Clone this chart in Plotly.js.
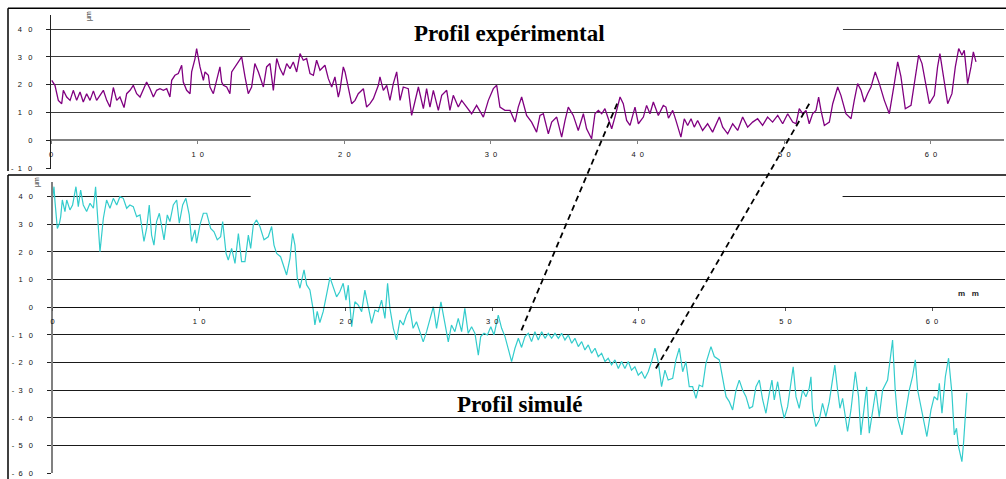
<!DOCTYPE html>
<html>
<head>
<meta charset="utf-8">
<script src="https://cdn.plot.ly/plotly-3.0.1.min.js"></script>
<style>html,body{margin:0;padding:0;background:#fff;}#chart{width:1006px;height:479px;}</style>
</head>
<body>
<div id="chart"></div>
<script>
// ---- Experimental profile (top, µm vs mm) ----
const expX = [0.05,0.16,0.27,0.5,0.73,0.84,1.07,1.3,1.52,1.75,1.98,2.2,2.43,2.66,2.89,3.11,3.34,3.57,3.8,4.02,4.25,4.48,4.7,4.98,5.16,5.39,5.61,5.84,6.07,6.3,6.52,6.75,6.98,7.2,7.43,7.66,7.89,8.11,8.23,8.45,8.68,8.91,9.02,9.25,9.48,9.59,9.82,9.93,10.16,10.39,10.5,10.73,10.84,11.07,11.3,11.52,11.64,11.75,11.98,12.2,12.32,12.55,12.77,13,13.23,13.45,13.68,13.9,14.14,14.48,14.7,14.93,15.16,15.39,15.61,15.84,16.07,16.3,16.52,16.75,16.98,17.2,17.43,17.66,17.89,18.11,18.34,18.68,18.91,19.14,19.36,19.59,19.7,19.93,20.05,20.27,20.5,20.73,20.95,21.3,21.52,21.75,21.98,22.32,22.43,22.66,22.89,23.11,23.34,23.57,23.8,24.02,24.36,24.59,24.82,25.05,25.39,25.61,25.84,26.07,26.41,26.64,26.98,27.2,27.43,27.77,28,28.34,28.68,29.02,29.48,29.82,30.16,30.39,30.61,30.95,31.3,31.64,31.86,32.09,32.43,32.77,33.11,33.34,33.57,33.91,34.14,34.48,34.82,35.05,35.27,35.61,35.95,36.3,36.52,36.86,37.09,37.32,37.55,37.77,38,38.23,38.45,38.8,39.02,39.25,39.48,39.82,40.05,40.39,40.61,40.84,41.07,41.41,41.75,41.93,42.1,42.39,42.61,42.95,43.18,43.41,43.64,43.86,44.09,44.43,44.77,45.11,45.57,45.8,46.14,46.48,46.82,47.16,47.5,47.84,48.18,48.52,48.86,49.2,49.55,49.89,50.23,50.57,50.8,51.02,51.25,51.48,51.7,51.93,52.16,52.34,52.5,52.73,53.07,53.3,53.64,53.86,54.2,54.55,54.77,55,55.23,55.45,55.68,55.91,56.2,56.48,56.82,57.16,57.5,57.73,57.95,58.25,58.64,58.86,59.16,59.39,59.66,59.89,60.23,60.45,60.61,60.84,61.14,61.43,61.66,61.89,62.11,62.27,62.5,62.73,62.89,63.07];
const expY = [21.6,20.4,19.8,14.4,13.2,18,15.6,14.4,18,14.4,17.4,13.8,16.8,14.4,17.8,14.4,16.2,18,14.4,12,19,14.4,15.6,11.8,16.8,18,19.8,16.8,15.6,18.6,21,18.6,15.6,18,18.6,18,18.6,15.6,21.6,23.4,24,27,21,18,16.8,24.6,29.4,33,26.4,21.6,24.6,23.4,19.2,16.8,21.6,26.4,21,19.8,19.2,16.8,24.6,26.4,28.2,30,22.8,16.8,19.2,27.6,24.6,19.2,26.4,27.6,18,29.4,25.8,23.4,27.6,25.8,28.2,24.6,31.2,28.8,29.4,24,23.4,28.8,25.2,27,22.2,19.2,22.8,15.6,18,26.4,24.6,19.2,13.2,14.4,16.8,18.6,12,13.2,15,19.8,22.8,18,19.8,14.4,20.4,24.6,14.4,19.2,18.6,9,14.4,19.2,11.4,18.6,12,18,10.8,16.2,18,10.8,16.2,12,14.4,12,9.6,12.6,8.4,14.4,18.6,19.8,12,10.8,10.8,6.6,12,15.6,9,6.6,3,9,9.6,2.4,6.6,8.4,1.2,7.2,12,9,3.6,9.6,4.2,0.6,9.6,10.8,9.6,11.4,7.8,4.2,8.4,15.6,13.2,7.2,5.4,12,6,8.4,12.6,9.6,13.8,9,12.6,12,8,10.8,7.2,1.2,7.8,5.4,7.8,4.8,7.2,3.6,6,3,8.4,4.8,2.4,6,3.6,8.4,4.8,6.6,7.8,5.4,8.4,6.6,9,6,9.6,6.6,6,11.4,9.6,10.8,6,9.6,10.8,15.6,10.8,5.4,6.6,13.2,19.2,16.2,9.6,7.8,14.4,20.4,18,13.8,16.8,19.2,24.6,20.4,14.4,9.6,20.4,28.2,23,11.4,12.6,20.4,30.6,27.6,19.2,13.2,16.2,26.4,31.2,22.8,13.2,16.8,26.4,33,30.6,32.4,20.4,26.4,31.8,28.2];

// ---- Simulated profile (bottom, µm vs mm) ----
const simX = [0,0.1,0.17,0.33,0.47,0.56,0.67,0.85,0.97,1.19,1.37,1.6,1.76,1.92,2.1,2.33,2.56,2.79,2.94,3.13,3.24,3.47,3.69,3.92,4.15,4.38,4.6,4.83,5.06,5.28,5.51,5.74,5.97,6.24,6.42,6.6,6.76,6.92,7.1,7.29,7.45,7.61,7.83,8.01,8.24,8.47,8.65,8.88,9.1,9.33,9.49,9.72,9.83,10.06,10.29,10.52,10.79,11.02,11.24,11.47,11.61,11.84,11.99,12.22,12.45,12.68,12.9,13.13,13.36,13.52,13.7,13.92,14.15,14.43,14.72,14.95,15.11,15.29,15.56,15.75,15.97,16.2,16.38,16.54,16.7,16.88,17.16,17.34,17.56,17.79,17.9,18.06,18.24,18.47,18.7,18.93,19.16,19.38,19.6,19.83,20.02,20.18,20.41,20.63,20.86,21.09,21.31,21.54,21.77,22,22.22,22.45,22.68,22.86,23.02,23.25,23.47,23.7,23.93,24.15,24.38,24.6,24.83,25.06,25.29,25.52,25.75,25.98,26.2,26.5,26.77,27,27.22,27.45,27.68,27.91,28.13,28.36,28.59,28.82,29.05,29.21,29.44,29.67,29.9,30.12,30.41,30.64,30.87,31.1,31.32,31.55,31.78,32,32.23,32.46,32.68,32.91,33.14,33.37,33.6,33.82,34.05,34.28,34.51,34.73,34.96,35.19,35.42,35.64,35.87,36.1,36.32,36.55,36.78,37.01,37.23,37.46,37.69,37.91,38.14,38.37,38.6,38.82,39.05,39.28,39.5,39.73,39.96,40.19,40.41,40.64,40.87,41.1,41.32,41.55,41.78,42,42.31,42.53,42.76,42.99,43.21,43.44,43.67,43.9,44.12,44.35,44.58,44.92,45.15,45.49,45.72,45.95,46.17,46.4,46.63,46.85,47.08,47.31,47.54,47.76,47.99,48.22,48.45,48.67,48.9,49.08,49.24,49.47,49.7,49.92,50.15,50.38,50.53,50.72,50.94,51.17,51.4,51.62,51.74,51.85,52.08,52.31,52.53,52.76,52.99,53.21,53.37,53.56,53.72,53.9,54.24,54.47,54.77,54.99,55.15,55.38,55.54,55.72,55.95,56.17,56.4,56.63,56.97,57.31,57.49,57.65,57.95,58.22,58.45,58.67,58.86,59.02,59.31,59.65,59.93,60.15,60.38,60.5,60.68,60.91,61.13,61.36,61.52,61.67,61.81,62.04,62.15,62.31,62.38];
const simY = [39.4,43.6,38.2,28.5,30.3,32.8,38.8,34.6,38.8,35.2,37,43.6,36.4,42.4,37,34.6,37.6,35.8,43.6,29.8,20.1,32.2,38.8,35.8,39.4,37,40,39.4,35.8,37,36.4,32.8,33.4,23.8,28.5,37,26.1,22.5,31,34,29.2,24.4,33.4,31,37,38.8,30.4,37,39.4,33.4,23.8,28,23.2,29.8,34,34,28.5,27.3,24.4,25.5,31,19.5,17.1,21.3,15.9,26.7,16.5,16.5,26.1,21.3,29.8,31.6,29.2,24.4,25.5,29.2,22.5,19.5,18.3,15.3,11.7,17.7,26.7,22.5,10.5,6.9,13.5,8.1,6.3,-1,-6.4,-1.5,-5.5,-1.5,5,10.8,7.2,3.8,5.6,8.7,2.6,8,-7,2,0.8,-1.6,6.2,0.8,-5.8,-1,-1.6,2.6,-4,8.7,-0.4,-7.6,-11.8,-4.6,-6.4,-2.8,-0.4,-7.6,-5.2,-8.8,-12.5,-8.8,-4,0.2,-7.6,2,-5.8,-12.5,-6.4,-8.8,-4,-8.8,-0.4,-9.4,-7,-9.4,-17.3,-10.6,-9.4,-10,-7,-10,-2.8,-7.6,-10.6,-14.8,-19.6,-14.8,-11.2,-14.5,-10.6,-9.4,-12.4,-8.8,-11.8,-8.8,-11.2,-9.4,-11.2,-9.4,-11.2,-9.4,-11.8,-10,-13,-11.2,-14.2,-12.4,-15.4,-13.6,-16.6,-14.8,-17.8,-16.6,-19.6,-18.4,-20.8,-19,-22.1,-19.6,-22.1,-19.6,-22.7,-21.5,-24.5,-23.3,-25.7,-23.3,-19.6,-14.8,-19.6,-28.7,-22.7,-26.3,-25.7,-19,-14.8,-23.3,-19.6,-28.7,-28.7,-32.9,-28.1,-28.7,-20.2,-14.2,-17.8,-19,-26.3,-32.3,-34.1,-37.1,-29.9,-26.3,-29.9,-32.3,-36.5,-35.9,-28.7,-26.3,-33.5,-38.3,-31.1,-26.3,-33.5,-26.9,-34.7,-40.1,-35.9,-27.5,-21.5,-32.3,-36.5,-29.9,-32.3,-29.3,-25.1,-37.1,-43.1,-40.7,-34.7,-39.5,-34.1,-26.3,-20.9,-29.9,-36.5,-32.9,-44.9,-37.1,-23.3,-32.3,-46.1,-35.9,-28.7,-45.5,-37.1,-29.9,-39.5,-29.9,-26.3,-11.8,-29.9,-40.1,-46.1,-37.1,-29.9,-25.1,-19,-29.9,-37.1,-46.7,-37.1,-32.3,-33.5,-27.5,-38.3,-25.1,-18.4,-31.1,-46.1,-43.7,-50.4,-55.8,-49.2,-37.1,-30.9];

// ---- Ticks ----
const NB2 = "\u00a0\u00a0", NB3 = "\u00a0\u00a0\u00a0";
const xTicks = [0,10,20,30,40,50,60];
const xTickText = ["0","1"+NB2+"0","2"+NB2+"0","3"+NB2+"0","4"+NB2+"0","5"+NB2+"0","6"+NB2+"0"];
const yTopTicks = [-10,0,10,20,30,40];
const yTopText = ["-"+NB2+"1"+NB3+"0","0","1"+NB3+"0","2"+NB3+"0","3"+NB3+"0","4"+NB3+"0"];
const yBotTicks = [-60,-50,-40,-30,-20,-10,0,10,20,30,40];
const yBotText = ["-"+NB2+"6"+NB3+"0","-"+NB2+"5"+NB3+"0","-"+NB2+"4"+NB3+"0","-"+NB2+"3"+NB3+"0","-"+NB2+"2"+NB3+"0","-"+NB2+"1"+NB3+"0","0","1"+NB3+"0","2"+NB3+"0","3"+NB3+"0","4"+NB3+"0"];

// ---- Matching points linked by dashed lines (top profile -> simulated profile) ----
const linkTopX = [38.6, 51.7];
const linkTopY = [13.2, 13.2];
const linkBotX = [31.9, 41.1];
const linkBotY = [-9.4, -22.7];

// ---- Layout geometry ----
const W = 1006, H = 479;
const topXDom = [51/W, 1004.3/W], topXRange = [0, 65];
const topYDom = [(H-168.9)/H, (H-15.1)/H], topYRange = [-10.2, 45];
const botXDom = [52.5/W, 1005.3/W], botXRange = [0, 65];
const botYDom = [(H-473.3)/H, (H-182)/H], botYRange = [-60, 45.3];

function toPaper(v, dom, rng){ return dom[0] + (v - rng[0])/(rng[1]-rng[0])*(dom[1]-dom[0]); }

const tickFont = {family:'Liberation Sans, Arial, sans-serif', size:7.5, color:'#111'};

const traces = [
  {x: expX, y: expY, xaxis:'x', yaxis:'y', type:'scatter', mode:'lines',
   line:{color:'#800080', width:1.3}, hoverinfo:'skip'},
  {x: simX, y: simY, xaxis:'x2', yaxis:'y2', type:'scatter', mode:'lines',
   line:{color:'#33CCCC', width:1.2}, hoverinfo:'skip'}
];

const shapes = [];
// frames
const frameLine = {color:'#000', width:1.5};
shapes.push({type:'line', xref:'paper', yref:'paper', x0:8/W, x1:1.01, y0:(H-8.3)/H, y1:(H-8.3)/H, line:frameLine});
shapes.push({type:'line', xref:'paper', yref:'paper', x0:8/W, x1:8/W, y0:(H-8.3)/H, y1:(H-171)/H, line:frameLine});
shapes.push({type:'line', xref:'paper', yref:'paper', x0:8/W, x1:1.01, y0:(H-175)/H, y1:(H-175)/H, line:frameLine});
shapes.push({type:'line', xref:'paper', yref:'paper', x0:8/W, x1:8/W, y0:(H-175)/H, y1:-0.01, line:frameLine});
// gaps in the 40 µm grid line
shapes.push({type:'rect', xref:'x', yref:'y', x0:13.57, x1:54.0, y0:39.2, y1:40.8, fillcolor:'#fff', line:{width:0}, layer:'between'});
shapes.push({type:'rect', xref:'x2', yref:'y2', x0:13.52, x1:53.9, y0:39.2, y1:40.8, fillcolor:'#fff', line:{width:0}, layer:'between'});
// no grid line at -60
shapes.push({type:'rect', xref:'x2', yref:'y2', x0:0.15, x1:66, y0:-60.6, y1:-59.4, fillcolor:'#fff', line:{width:0}, layer:'between'});
// dashed correspondence lines
for (let i = 0; i < linkTopX.length; i++) {
  shapes.push({type:'line', xref:'paper', yref:'paper',
    x0: toPaper(linkTopX[i], topXDom, topXRange), y0: toPaper(linkTopY[i], topYDom, topYRange),
    x1: toPaper(linkBotX[i], botXDom, botXRange), y1: toPaper(linkBotY[i], botYDom, botYRange),
    line:{color:'#000', width:1.8, dash:'6px,4px'}});
}

const annotations = [
  {text:'Profil expérimental', xref:'paper', yref:'paper', x:509.5/W, y:(H-34)/H, showarrow:false,
   xanchor:'center', yanchor:'middle', font:{family:'Liberation Serif, Times New Roman, serif', size:23, weight:'bold', color:'#000'}},
  {text:'Profil simulé', xref:'paper', yref:'paper', x:519.5/W, y:(H-404)/H, showarrow:false,
   xanchor:'center', yanchor:'middle', font:{family:'Liberation Serif, Times New Roman, serif', size:23, weight:'bold', color:'#000'}},
  {text:'µm', xref:'paper', yref:'paper', x:89/W, y:(H-16)/H, showarrow:false, textangle:-90,
   xanchor:'center', yanchor:'middle', font:{family:'Liberation Sans, Arial, sans-serif', size:7, color:'#222'}},
  {text:'µm', xref:'paper', yref:'paper', x:37.5/W, y:(H-182.5)/H, showarrow:false, textangle:-90,
   xanchor:'center', yanchor:'middle', font:{family:'Liberation Sans, Arial, sans-serif', size:7, color:'#222'}},
  {text:'m\u00a0\u00a0\u00a0m', xref:'paper', yref:'paper', x:968/W, y:(H-293)/H, showarrow:false,
   xanchor:'center', yanchor:'middle', font:{family:'Liberation Sans, Arial, sans-serif', size:8, weight:'bold', color:'#222'}}
];

const layout = {
  width: W, height: H, autosize:false,
  margin:{l:0, r:0, t:0, b:0, pad:0},
  paper_bgcolor:'#fff', plot_bgcolor:'rgba(0,0,0,0)',
  showlegend:false,
  xaxis:{domain:topXDom, range:topXRange, anchor:'free', position: toPaper(0, topYDom, topYRange),
    showgrid:false, zeroline:false, showline:true, linecolor:'#808080', linewidth:2,
    ticks:'outside', ticklen:3, tickcolor:'#808080', tickvals:xTicks, ticktext:xTickText,
    tickfont:tickFont, ticklabelstandoff:4, fixedrange:true},
  yaxis:{domain:topYDom, range:topYRange, anchor:'x',
    showgrid:true, gridcolor:'#3c3c3c', gridwidth:1, zeroline:false, showline:true, linecolor:'#222', linewidth:1.2,
    ticks:'outside', ticklen:4, tickcolor:'#222', tickvals:yTopTicks, ticktext:yTopText,
    tickfont:tickFont, ticklabelstandoff:12, fixedrange:true},
  xaxis2:{domain:botXDom, range:botXRange, anchor:'free', position: toPaper(0, botYDom, botYRange),
    showgrid:false, zeroline:false, showline:true, linecolor:'#111', linewidth:1,
    ticks:'outside', ticklen:3, tickcolor:'#555', tickvals:xTicks, ticktext:xTickText,
    tickfont:tickFont, ticklabelstandoff:4, fixedrange:true},
  yaxis2:{domain:botYDom, range:botYRange, anchor:'x2',
    showgrid:true, gridcolor:'#1a1a1a', gridwidth:1, zeroline:false, showline:true, linecolor:'#808080', linewidth:2,
    ticks:'outside', ticklen:4, tickcolor:'#222', tickvals:yBotTicks, ticktext:yBotText,
    tickfont:tickFont, ticklabelstandoff:12, fixedrange:true},
  shapes: shapes,
  annotations: annotations
};

Plotly.newPlot('chart', traces, layout, {staticPlot:true, displayModeBar:false});
</script>
</body>
</html>
